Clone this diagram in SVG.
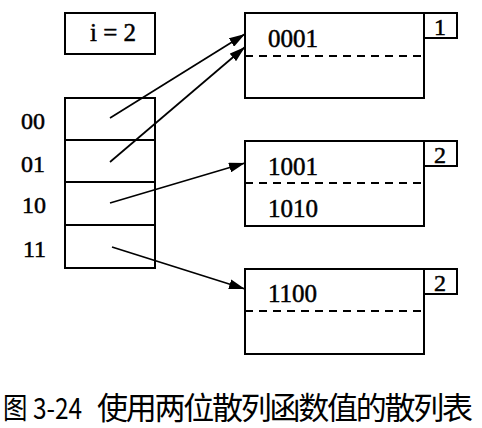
<svg xmlns="http://www.w3.org/2000/svg" width="482" height="428" viewBox="0 0 482 428">
<style>
.box{fill:none;stroke:#000;stroke-width:2}
.dash{stroke:#000;stroke-width:1.8;stroke-dasharray:8,6;fill:none}
.t{font-family:"Liberation Serif","Times New Roman","DejaVu Serif",serif;fill:#000;stroke:#000;stroke-width:0.5}
.conn{stroke:#000;stroke-width:1.7;fill:none;marker-end:url(#ah)}
.cap{font-family:"Noto Sans CJK SC","Noto Sans",sans-serif;fill:#000}
</style>
<defs>
<marker id="ah" markerUnits="userSpaceOnUse" markerWidth="18" markerHeight="10" refX="16" refY="5" orient="auto">
<path d="M0,0 L16,5 L0,10 Z" fill="#000"/>
</marker>
</defs>
<rect width="482" height="428" fill="#fff"/>
<g id="global-depth">
<rect class="box" x="65" y="13" width="90" height="41"/>
<text class="t" x="113" y="41" font-size="25" text-anchor="middle">i = 2</text>
</g>
<g id="directory">
<rect class="box" x="65" y="98" width="90" height="170"/>
<line class="box" x1="65" y1="140" x2="155" y2="140"/>
<line class="box" x1="65" y1="182" x2="155" y2="182"/>
<line class="box" x1="65" y1="225" x2="155" y2="225"/>
<text class="t" x="21" y="129" font-size="24">00</text>
<text class="t" x="21" y="172" font-size="24">01</text>
<text class="t" x="22" y="213" font-size="24">10</text>
<text class="t" x="23" y="257" font-size="24">11</text>
</g>
<g id="bucket1">
<rect class="box" x="245" y="13" width="179" height="85"/>
<line class="dash" x1="245" y1="56" x2="424" y2="56"/>
<rect class="box" x="424" y="13" width="33" height="25"/>
<text class="t" x="440" y="35" font-size="24" text-anchor="middle">1</text>
<text class="t" x="268" y="47" font-size="25">0001</text>
</g>
<g id="bucket2">
<rect class="box" x="245" y="141" width="179" height="85"/>
<line class="dash" x1="245" y1="183" x2="424" y2="183"/>
<rect class="box" x="424" y="141" width="33" height="25"/>
<text class="t" x="440" y="163" font-size="24" text-anchor="middle">2</text>
<text class="t" x="268" y="175" font-size="25">1001</text>
<text class="t" x="268" y="217" font-size="25">1010</text>
</g>
<g id="bucket3">
<rect class="box" x="245" y="269" width="179" height="85"/>
<line class="dash" x1="245" y1="311" x2="424" y2="311"/>
<rect class="box" x="424" y="269" width="33" height="25"/>
<text class="t" x="440" y="291" font-size="24" text-anchor="middle">2</text>
<text class="t" x="268" y="302" font-size="25">1100</text>
</g>
<g id="connectors">
<line class="conn" x1="110" y1="118" x2="245" y2="34"/>
<line class="conn" x1="110" y1="162" x2="245" y2="47"/>
<line class="conn" x1="110" y1="203" x2="245" y2="163"/>
<line class="conn" x1="112" y1="247" x2="245" y2="289"/>
</g>
<g id="caption">
<text class="cap" x="3" y="419" font-size="29" textLength="79" lengthAdjust="spacingAndGlyphs">图 3-24</text>
<text class="cap" x="97" y="419" font-size="31" textLength="376" lengthAdjust="spacing">使用两位散列函数值的散列表</text>
</g>
</svg>
